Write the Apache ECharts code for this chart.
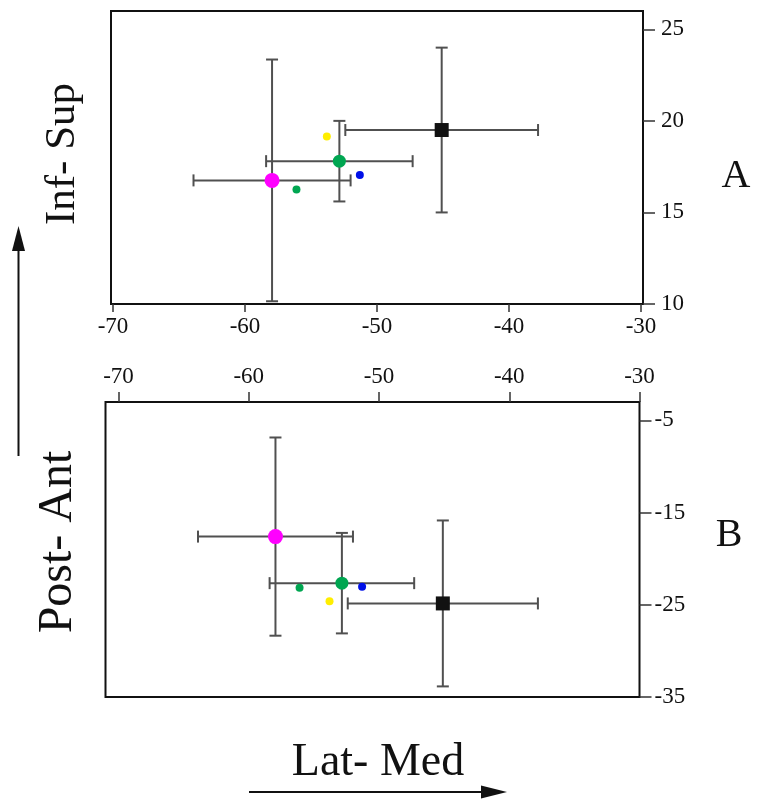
<!DOCTYPE html>
<html>
<head>
<meta charset="utf-8">
<script src="https://cdn.jsdelivr.net/npm/echarts@6/dist/echarts.min.js"></script>
<style>html,body{margin:0;padding:0;background:#fff;}#c{width:757px;height:803px;}</style>
</head>
<body>
<div id="c"></div>
<script>
// ---- data ----
const pointNames = ['Mean 1', 'Mean 2', 'Mean 3', 'Yellow', 'Blue', 'Green'];
const latMed    = [-57.95, -52.85, -45.1, -53.8, -51.3, -56.1];   // x in both panels
const infSup    = [16.75, 17.8, 19.5, 19.15, 17.05, 16.25];       // panel A y
const postAnt   = [-17.6, -22.65, -24.85, -24.6, -23.05, -23.15]; // panel B y
const latMedErr = [5.95, 5.55, 7.3];
const infSupErr = [6.6, 2.2, 4.5];
const postAntErr = [10.75, 5.45, 9.0];
const xTicks  = [-70, -60, -50, -40, -30];
const aYTicks = [10, 15, 20, 25];
const bYTicks = [-5, -15, -25, -35];

const colors  = ['#ff00ff', '#00a651', '#111111', '#ffee00', '#0010e8', '#00a651'];
const symbols = ['circle', 'circle', 'rect', 'circle', 'circle', 'circle'];
const sizes   = [15, 13, 14, 8, 8, 8];

const serif = 'Liberation Serif';
const chart = echarts.init(document.getElementById('c'), null, {renderer: 'canvas'});

function errRender(params, api) {
  const x = api.value(0), y = api.value(1), ex = api.value(2), ey = api.value(3);
  const l = api.coord([x - ex, y]), r = api.coord([x + ex, y]);
  const t = api.coord([x, y + ey]), b = api.coord([x, y - ey]);
  const cap = 6;
  const st = {stroke: '#505050', lineWidth: 2};
  const ln = (x1, y1, x2, y2) => ({type: 'line', shape: {x1, y1, x2, y2}, style: st});
  return {type: 'group', children: [
    ln(l[0], l[1], r[0], r[1]),
    ln(l[0], l[1] - cap, l[0], l[1] + cap),
    ln(r[0], r[1] - cap, r[0], r[1] + cap),
    ln(t[0], t[1], b[0], b[1]),
    ln(t[0] - cap, t[1], t[0] + cap, t[1]),
    ln(b[0] - cap, b[1], b[0] + cap, b[1])
  ]};
}

const series = [];
// error bars
series.push({
  type: 'custom', xAxisIndex: 0, yAxisIndex: 0, renderItem: errRender, z: 2,
  encode: {x: 0, y: 1},
  data: latMedErr.map((e, i) => [latMed[i], infSup[i], e, infSupErr[i]])
});
series.push({
  type: 'custom', xAxisIndex: 1, yAxisIndex: 1, renderItem: errRender, z: 2,
  encode: {x: 0, y: 1},
  data: latMedErr.map((e, i) => [latMed[i], postAnt[i], e, postAntErr[i]])
});
// markers
pointNames.forEach((n, i) => {
  series.push({
    type: 'scatter', name: n + ' A', xAxisIndex: 0, yAxisIndex: 0, z: 5,
    symbol: symbols[i], symbolSize: sizes[i], itemStyle: {color: colors[i], opacity: 1},
    data: [[latMed[i], infSup[i]]]
  });
  series.push({
    type: 'scatter', name: n + ' B', xAxisIndex: 1, yAxisIndex: 1, z: 5,
    symbol: symbols[i], symbolSize: sizes[i], itemStyle: {color: colors[i], opacity: 1},
    data: [[latMed[i], postAnt[i]]]
  });
});

const lbl = {fontFamily: serif, fontSize: 23, color: '#111'};
const tick = (len) => ({show: true, length: len, lineStyle: {color: '#333', width: 1.5}});

chart.setOption({
  animation: false,
  backgroundColor: '#fff',
  grid: [
    {left: 111, top: 11, width: 532, height: 293, show: true, borderColor: '#111', borderWidth: 2},
    {left: 105.5, top: 402, width: 534, height: 295, show: true, borderColor: '#111', borderWidth: 2}
  ],
  xAxis: [
    {type: 'value', gridIndex: 0, position: 'bottom', min: -70.15, max: -29.85,
     axisLine: {show: false}, splitLine: {show: false},
     axisTick: Object.assign({customValues: xTicks}, tick(8)),
     axisLabel: Object.assign({customValues: xTicks, margin: 11}, lbl)},
    {type: 'value', gridIndex: 1, position: 'top', min: -71, max: -30,
     axisLine: {show: false}, splitLine: {show: false},
     axisTick: Object.assign({customValues: xTicks}, tick(10)),
     axisLabel: Object.assign({customValues: xTicks, margin: 14}, lbl)}
  ],
  yAxis: [
    {type: 'value', gridIndex: 0, position: 'right', min: 10, max: 26,
     axisLine: {show: false}, splitLine: {show: false},
     axisTick: Object.assign({customValues: aYTicks}, tick(12)),
     axisLabel: Object.assign({customValues: aYTicks, margin: 18}, lbl)},
    {type: 'value', gridIndex: 1, position: 'right', min: -35, max: -3,
     axisLine: {show: false}, splitLine: {show: false},
     axisTick: Object.assign({customValues: bYTicks}, tick(12)),
     axisLabel: Object.assign({customValues: bYTicks, margin: 15}, lbl)}
  ],
  graphic: [
    {type: 'text', x: 63, y: 154, rotation: Math.PI / 2,
     style: {text: 'Inf- Sup', font: '43px "Liberation Serif"', fill: '#111', align: 'center', verticalAlign: 'middle'}},
    {type: 'text', x: 58, y: 542, rotation: Math.PI / 2,
     style: {text: 'Post- Ant', font: '48px "Liberation Serif"', fill: '#111', align: 'center', verticalAlign: 'middle'}},
    {type: 'text', x: 378, y: 763,
     style: {text: 'Lat- Med', font: '46px "Liberation Serif"', fill: '#111', align: 'center', verticalAlign: 'middle'}},
    {type: 'text', x: 736, y: 176,
     style: {text: 'A', font: '40px "Liberation Serif"', fill: '#111', align: 'center', verticalAlign: 'middle'}},
    {type: 'text', x: 729, y: 535,
     style: {text: 'B', font: '40px "Liberation Serif"', fill: '#111', align: 'center', verticalAlign: 'middle'}},
    {type: 'line', shape: {x1: 18.5, y1: 456, x2: 18.5, y2: 245}, style: {stroke: '#111', lineWidth: 2}},
    {type: 'polygon', shape: {points: [[18.5, 226], [12, 251], [25, 251]]}, style: {fill: '#111'}},
    {type: 'line', shape: {x1: 249, y1: 792, x2: 485, y2: 792}, style: {stroke: '#111', lineWidth: 2}},
    {type: 'polygon', shape: {points: [[507, 792], [481, 785.5], [481, 798.5]]}, style: {fill: '#111'}}
  ],
  series: series
});
</script>
</body>
</html>
